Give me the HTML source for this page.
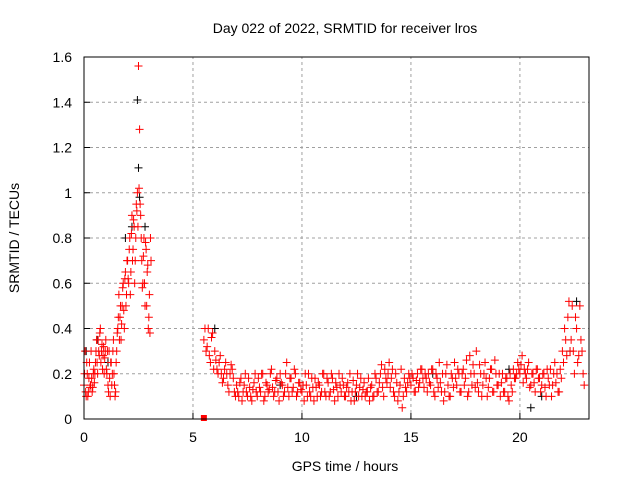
<!DOCTYPE html>
<html><head><meta charset="utf-8"><style>
body{margin:0;background:#fff;}
svg text{font-family:"Liberation Sans",sans-serif;font-size:14px;fill:#000;}
</style></head><body>
<svg id="chart" width="640" height="480" xmlns="http://www.w3.org/2000/svg">
<text x="345" y="33" text-anchor="middle">Day 022 of 2022, SRMTID for receiver lros</text>
<text transform="translate(19,238) rotate(-90)" text-anchor="middle">SRMTID / TECUs</text>
<text x="345" y="471" text-anchor="middle">GPS time / hours</text>
<g id="grid"></g>
<g id="ticks"></g>
<g id="marks"></g>
<rect x="84" y="57" width="505" height="362" fill="none" stroke="#000" stroke-width="1"/>
</svg>
<script>
const xTicks=[0,5,10,15,20];
const yTicks=[0,0.2,0.4,0.6,0.8,1,1.2,1.4,1.6];
const yTickLabels=["0","0.2","0.4","0.6","0.8","1","1.2","1.4","1.6"];
const seg1Start=0, seg1Step=0.05;
const seg1Values=[0.15,0.3,0.1,0.2,0.12,0.25,0.15,0.18,0.14,0.22,
0.2,0.3,0.25,0.35,0.28,0.4,0.3,0.22,0.32,0.27,
0.35,0.2,0.15,0.3,0.1,0.25,0.2,0.35,0.15,0.12,
0.3,0.4,0.55,0.45,0.35,0.5,0.6,0.4,0.65,0.55,
0.7,0.6,0.8,0.65,0.9,0.75,0.85,0.7,0.95,1.0,
1.56,1.28,0.9,0.7,0.6,0.8,0.5,0.75,0.65,0.4,0.55,0.8];
const seg1bStart=0.025, seg1bStep=0.05;
const seg1bValues=[0.2,0.12,0.25,0.1,0.18,0.14,0.3,0.12,0.2,0.16,
0.25,0.35,0.2,0.3,0.38,0.25,0.33,0.28,0.2,0.3,
0.22,0.3,0.12,0.18,0.25,0.15,0.3,0.2,0.1,0.25,
0.38,0.45,0.35,0.5,0.42,0.58,0.48,0.62,0.5,0.7,
0.62,0.75,0.55,0.82,0.7,0.88,0.6,0.8,0.92,0.85,
1.02,0.95,0.8,0.58,0.72,0.6,0.78,0.5,0.68,0.45,0.38,0.7];
const seg2Start=5.5, seg2Step=0.1;
const seg2Values=[0.35,0.3,0.4,0.25,0.38,
0.3,0.22,0.25,0.2,0.18,0.25,0.15,0.2,0.22,0.12,
0.15,0.1,0.18,0.12,0.2,0.1,0.14,0.08,0.16,0.12,
0.18,0.12,0.2,0.1,0.15,0.13,0.22,0.1,0.17,0.12,
0.2,0.15,0.12,0.25,0.1,0.18,0.14,0.2,0.12,0.16,
0.12,0.08,0.15,0.2,0.1,0.14,0.18,0.1,0.15,0.12,
0.2,0.1,0.16,0.12,0.18,0.08,0.14,0.2,0.12,0.15,
0.1,0.16,0.2,0.12,0.08,0.15,0.1,0.18,0.13,0.1,
0.12,0.08,0.15,0.1,0.18,0.12,0.2,0.14,0.22,0.16,
0.25,0.18,0.12,0.2,0.08,0.15,0.05,0.18,0.12,0.2,
0.15,0.18,0.12,0.2,0.16,0.22,0.14,0.18,0.2,0.15,
0.22,0.1,0.18,0.25,0.12,0.08,0.2,0.15,0.1,0.18,
0.25,0.15,0.2,0.12,0.22,0.18,0.1,0.28,0.15,0.2,
0.3,0.12,0.2,0.15,0.25,0.1,0.18,0.22,0.12,0.2,
0.15,0.1,0.2,0.12,0.18,0.08,0.15,0.22,0.18,0.25,
0.2,0.28,0.22,0.18,0.25,0.15,0.2,0.12,0.22,0.18,
0.15,0.2,0.1,0.18,0.22,0.15,0.25,0.2,0.12,0.18,
0.25,0.35,0.45,0.3,0.5,0.2,0.4,0.28,0.35,0.2];
const seg3Start=5.55, seg3Step=0.1;
const seg3Values=[0.4,0.32,0.28,0.36,0.22,
0.26,0.2,0.28,0.16,0.22,0.2,0.12,0.24,0.18,0.1,
0.12,0.16,0.08,0.15,0.12,0.18,0.1,0.13,0.2,0.1,
0.14,0.2,0.08,0.16,0.12,0.2,0.14,0.12,0.18,0.08,
0.16,0.1,0.2,0.14,0.18,0.12,0.22,0.1,0.16,0.13,
0.15,0.2,0.1,0.12,0.18,0.08,0.14,0.16,0.1,0.2,
0.12,0.18,0.1,0.2,0.13,0.16,0.1,0.15,0.18,0.1,
0.14,0.12,0.08,0.17,0.12,0.2,0.14,0.1,0.16,0.12,
0.18,0.14,0.1,0.2,0.12,0.16,0.24,0.1,0.18,0.2,
0.14,0.22,0.1,0.16,0.12,0.22,0.1,0.14,0.16,0.18,
0.2,0.12,0.17,0.14,0.22,0.18,0.2,0.12,0.16,0.22,
0.12,0.2,0.14,0.16,0.2,0.12,0.24,0.1,0.2,0.14,
0.18,0.22,0.12,0.2,0.15,0.26,0.12,0.2,0.24,0.14,
0.16,0.24,0.1,0.2,0.18,0.14,0.22,0.12,0.26,0.15,
0.2,0.16,0.12,0.18,0.1,0.2,0.12,0.18,0.2,0.22,
0.24,0.16,0.2,0.22,0.14,0.2,0.16,0.22,0.18,0.12,
0.2,0.14,0.22,0.15,0.1,0.2,0.16,0.12,0.22,0.3,
0.4,0.28,0.52,0.35,0.3,0.45,0.25,0.5,0.3,0.15];
const blackTimes=[0.1,0.6,1.1,1.9,2.2,2.45,2.5,2.55,2.8,6.0,9.0,12.5,16.0,19.5,20.5,21.0,22.3,22.6];
const blackValues=[0.3,0.35,0.25,0.8,0.85,1.41,1.11,0.98,0.85,0.4,0.15,0.1,0.2,0.22,0.05,0.1,0.3,0.52];
const zeroTimes=[5.5];
const zeroValues=[0];

const X0=84,X1=589,Y0=419,Y1=57,XMAX=23.17,YMAX=1.6;
function xs(t){return X0+(X1-X0)*t/XMAX;}
function ys(v){return Y0-(Y0-Y1)*v/YMAX;}
const NS="http://www.w3.org/2000/svg";
const grid=document.getElementById('grid'),ticks=document.getElementById('ticks'),marks=document.getElementById('marks');
function mk(tag,attrs,parent){const e=document.createElementNS(NS,tag);for(const k in attrs)e.setAttribute(k,attrs[k]);parent.appendChild(e);return e;}
xTicks.forEach(t=>{
  const x=xs(t);
  if(t>0){const g=mk('line',{x1:x,y1:Y0,x2:x,y2:Y1,stroke:'#a0a0a0','stroke-dasharray':'3,3'},grid);
  
  }
  const tk=mk('line',{x1:x,y1:Y0,x2:x,y2:Y0-6,stroke:'#000'},ticks);
  
  
  const l=mk('text',{x:x,y:Y0+23,'text-anchor':'middle'},ticks);l.textContent=t;
  
  
});
yTicks.forEach((v,i)=>{
  const y=ys(v);
  if(v>0&&v<YMAX){const g=mk('line',{x1:X0,y1:y,x2:X1,y2:y,stroke:'#a0a0a0','stroke-dasharray':'3,3'},grid);
  
  }
  const tk=mk('line',{x1:X0,y1:y,x2:X0+6,y2:y,stroke:'#000'},ticks);
  
  
  const l=mk('text',{x:X0-12,y:y+5,'text-anchor':'end'},ticks);l.textContent=yTickLabels[i];
  
  
});
function plus(t,v,color){
  const x=xs(t),y=ys(v);
  const p=mk('path',{d:`M${x-4},${y}H${x+4}M${x},${y-4}V${y+4}`,stroke:color,'stroke-width':1,fill:'none'},marks);
  
  
}
blackTimes.forEach((t,i)=>plus(t,blackValues[i],'#000'));
seg1Values.forEach((v,i)=>plus(seg1Start+i*seg1Step,v,'#f00'));
seg1bValues.forEach((v,i)=>plus(seg1bStart+i*seg1bStep,v,'#f00'));
seg2Values.forEach((v,i)=>plus(seg2Start+i*seg2Step,v,'#f00'));
seg3Values.forEach((v,i)=>plus(seg3Start+i*seg3Step,v,'#f00'));
zeroTimes.forEach((t,i)=>{
  const r=mk('rect',{x:xs(t)-3,y:ys(zeroValues[i])-4,width:6,height:6,fill:'#f00'},marks);
  
  
});
</script>
</body></html>
